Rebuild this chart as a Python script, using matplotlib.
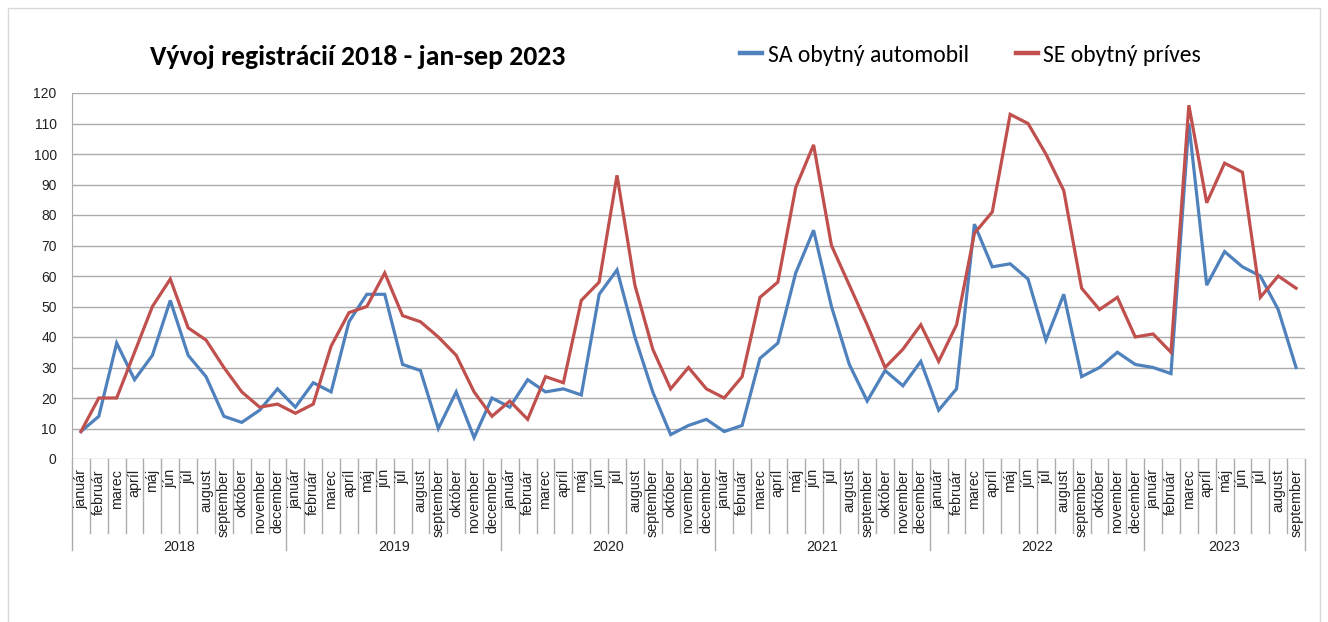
import numpy as np
import matplotlib
matplotlib.use("Agg")
import matplotlib.pyplot as plt
from matplotlib.transforms import blended_transform_factory
from matplotlib.lines import Line2D

# Month and year categories
MONTHS = ["január", "február", "marec", "apríl", "máj", "jún", "júl",
          "august", "september", "október", "november", "december"]
YEARS = ["2018", "2019", "2020", "2021", "2022", "2023"]
MONTHS_2023 = 9

# Monthly registrations, Jan 2018 - Sep 2023
sa_obytny_automobil = [
    9, 14, 38, 26, 34, 52, 34, 27, 14, 12, 16, 23,
    17, 25, 22, 45, 54, 54, 31, 29, 10, 22, 7, 20,
    17, 26, 22, 23, 21, 54, 62, 40, 22, 8, 11, 13,
    9, 11, 33, 38, 61, 75, 50, 31, 19, 29, 24, 32,
    16, 23, 77, 63, 64, 59, 39, 54, 27, 30, 35, 31,
    30, 28, 110, 57, 68, 63, 60, 49, 30,
]
se_obytny_prives = [
    9, 20, 20, 35, 50, 59, 43, 39, 30, 22, 17, 18,
    15, 18, 37, 48, 50, 61, 47, 45, 40, 34, 22, 14,
    19, 13, 27, 25, 52, 58, 93, 57, 36, 23, 30, 23,
    20, 27, 53, 58, 89, 103, 70, 57, 44, 30, 36, 44,
    32, 44, 74, 81, 113, 110, 100, 88, 56, 49, 53, 40,
    41, 35, 116, 84, 97, 94, 53, 60, 56,
]

BLUE = "#4F81BD"
RED = "#C0504D"
GRID = "#ABABAB"
TXT = "#222222"
SANS = ["Liberation Sans", "DejaVu Sans"]
CALIBRI = ["Carlito", "DejaVu Sans"]

W, H = 1328, 622
fig = plt.figure(figsize=(W / 100, H / 100), dpi=100)
ax = fig.add_axes([72 / W, 1 - 459 / H, (1305 - 72) / W, (459 - 93) / H])

n = len(sa_obytny_automobil)
x = np.arange(n)
ax.plot(x, sa_obytny_automobil, color=BLUE, lw=2.3, solid_joinstyle="miter")
ax.plot(x, se_obytny_prives, color=RED, lw=2.3, solid_joinstyle="miter")

ax.set_xlim(-0.5, n - 0.5)
ax.set_ylim(0, 120)
ax.set_yticks(range(0, 121, 10))
ax.yaxis.grid(True, color=GRID, lw=1)
ax.set_axisbelow(True)
ax.tick_params(axis="y", length=0, pad=11, labelsize=10, labelcolor=TXT)
for lab in ax.get_yticklabels():
    lab.set_family(SANS)
ax.set_xticks([])
for s in ["top", "right", "bottom"]:
    ax.spines[s].set_visible(False)
ax.spines["left"].set_color(GRID)

# Two-level category axis drawn by hand
tr = blended_transform_factory(ax.transData, ax.transAxes)
px = 1 / (459 - 93)  # one pixel in axes units
labels = []
for y in YEARS:
    cnt = MONTHS_2023 if y == "2023" else 12
    labels.extend(MONTHS[:cnt])

for i, m in enumerate(labels):
    ax.text(i, -10 * px, m, transform=tr, rotation=90, ha="center", va="top",
            fontsize=10.3, family=SANS, color=TXT)

for i in range(n + 1):
    long_line = (i % 12 == 0) or i == n
    bottom = -91 * px if long_line else -74 * px
    ax.plot([i - 0.5, i - 0.5], [0, bottom], transform=tr, color=GRID,
            lw=1, clip_on=False)

start = 0
for y in YEARS:
    cnt = MONTHS_2023 if y == "2023" else 12
    mid = start + (cnt - 1) / 2
    ax.text(mid, -88 * px, y, transform=tr, ha="center", va="center",
            fontsize=10.3, family=SANS, color=TXT)
    start += cnt

# Title and legend
fig.text(150 / W, 1 - 57 / H, "Vývoj registrácií 2018 - jan-sep 2023",
         fontsize=20, fontweight="bold", family=CALIBRI,
         ha="left", va="center")

handles = [Line2D([], [], color=BLUE, lw=3.2), Line2D([], [], color=RED, lw=3.2)]
fig.legend(handles, ["SA obytný automobil", "SE obytný príves"],
           loc="center left", bbox_to_anchor=(740 / W, 1 - 55 / H), ncol=2,
           frameon=False, borderpad=0, borderaxespad=0,
           handlelength=0.95, handletextpad=0.22, columnspacing=2.0,
           prop={"family": CALIBRI, "size": 17})

# Light outer border
fig.add_artist(plt.Rectangle((8 / W, -0.01), (1320 - 8) / W, 1 - 8 / H + 0.01,
                             transform=fig.transFigure, fill=False,
                             edgecolor="#D9D9D9", lw=1))

fig.savefig("out.png", dpi=100)
